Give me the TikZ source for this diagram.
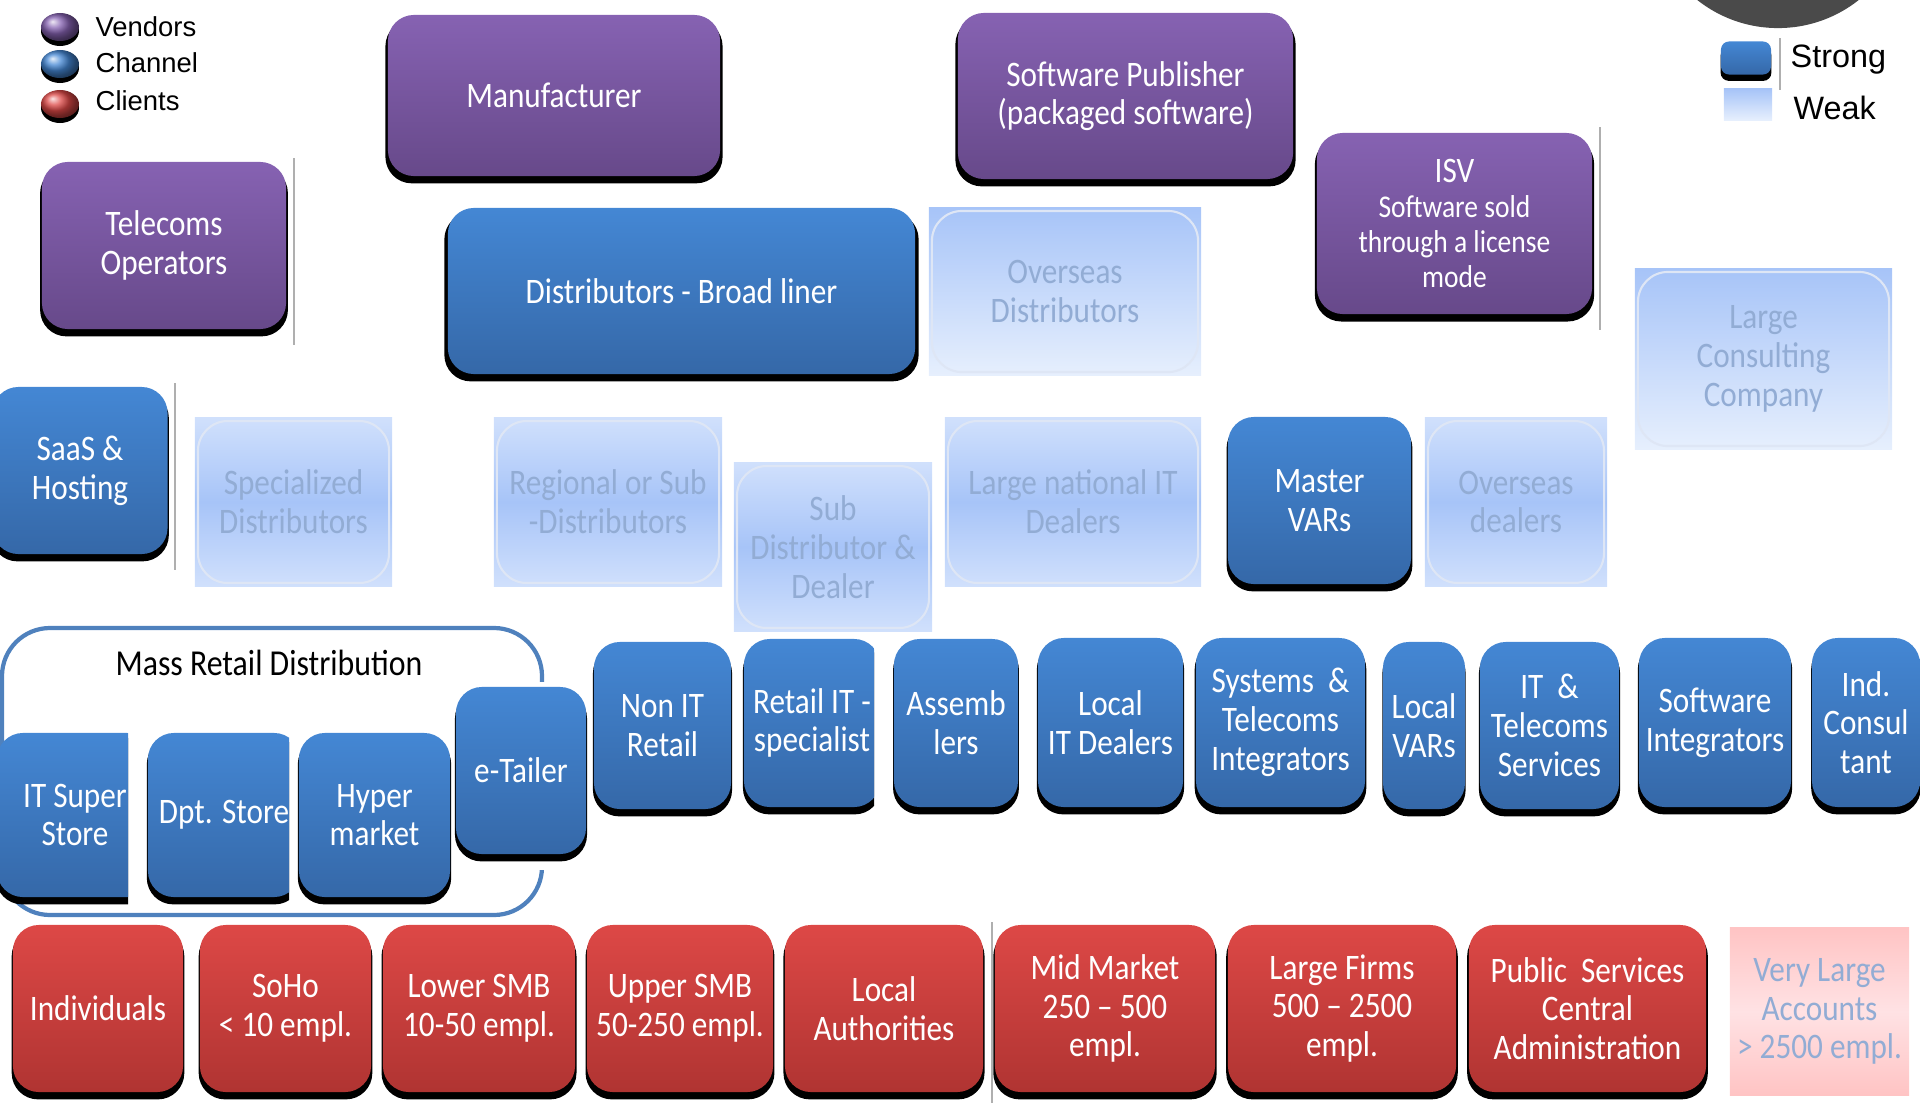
\documentclass[tikz,border=0pt]{standalone}
\usepackage{fontspec}
\usetikzlibrary{shadows}
\newfontfamily\boxfont{Carlito}[FakeStretch=0.87]
\newfontfamily\keyfont{Liberation Sans}
\definecolor{vendortop}{RGB}{134,98,178}
\definecolor{vendorbot}{RGB}{103,73,138}
\definecolor{channeltop}{RGB}{68,135,212}
\definecolor{channelbot}{RGB}{53,104,168}
\definecolor{clienttop}{RGB}{221,72,70}
\definecolor{clientbot}{RGB}{176,52,50}
\definecolor{weaklight}{RGB}{208,224,252}
\definecolor{weakmid}{RGB}{167,196,248}
\definecolor{weakpale}{RGB}{230,239,253}
\definecolor{weakedge}{RGB}{222,230,245}
\definecolor{faintink}{RGB}{146,172,212}
\definecolor{blushedge}{RGB}{255,196,196}
\definecolor{blushmid}{RGB}{255,226,228}
\definecolor{framecol}{RGB}{79,129,189}
\definecolor{knob}{RGB}{74,74,74}
\definecolor{seamgray}{RGB}{175,175,175}

\tikzset{
  tile/.style={rectangle, rounded corners=0.26cm, align=center, inner sep=1pt,
    text=white, font=\boxfont\fontsize{10.2}{11}\selectfont,
    general shadow={fill=black, shadow yshift=-0.06cm, shadow scale=1.015}},
  vendor/.style={tile, top color=vendortop, bottom color=vendorbot},
  channel/.style={tile, top color=channeltop, bottom color=channelbot},
  client/.style={tile, top color=clienttop, bottom color=clientbot},
  faint/.style={rectangle, align=center, inner sep=1pt, text=faintink,
    font=\boxfont\fontsize{10.2}{11}\selectfont},
  weak/.style={faint, top color=weaklight, bottom color=weaklight, middle color=weakmid,
    path picture={\draw[weakedge, line width=0.6pt, rounded corners=0.3cm]
      ([shift={(0.03cm,0.03cm)}]path picture bounding box.south west) rectangle
      ([shift={(-0.03cm,-0.03cm)}]path picture bounding box.north east);}},
  weakfade/.style={weak, top color=weakmid, bottom color=weakpale},
  blush/.style={faint, top color=blushedge, bottom color=blushedge, middle color=blushmid},
  keytext/.style={anchor=west, inner sep=0pt, font=\keyfont\fontsize{7.8}{9}\selectfont},
  seam/.style={draw=seamgray, line width=0.4pt},
}

\begin{document}
\begin{tikzpicture}[x=0.01cm,y=-0.01cm]
  \useasboundingbox (0,0) rectangle (1920,1103);

  \fill[knob] (1778,-102) circle (1.3cm);

  % legend: groups
  \fill[black] (60,31) ellipse [x radius=0.19cm, y radius=0.15cm];
  \shade[ball color=vendortop] (60,27) ellipse [x radius=0.19cm, y radius=0.14cm];
  \fill[black] (60,68) ellipse [x radius=0.19cm, y radius=0.15cm];
  \shade[ball color=channeltop] (60,64) ellipse [x radius=0.19cm, y radius=0.14cm];
  \fill[black] (60,108) ellipse [x radius=0.19cm, y radius=0.15cm];
  \shade[ball color=clienttop] (60,104) ellipse [x radius=0.19cm, y radius=0.14cm];
  \node[keytext] (kvend) at (95,27) {Vendors};
  \node[keytext] (kchan) at (95,63) {Channel};
  \node[keytext] (kclient) at (95,101) {Clients};

  % legend: link strength
  \node[channel, rounded corners=0.08cm, inner sep=0pt, minimum width=0.5cm, minimum height=0.33cm] (kstrong) at (1746,58) {};
  \node[faint, top color=weakmid, bottom color=weakpale, inner sep=0pt, minimum width=0.48cm, minimum height=0.31cm] (kweak) at (1748,104.5) {};
  \node[keytext, font=\keyfont\fontsize{9.2}{10}\selectfont] (tstrong) at (1790,60) {Strong};
  \node[keytext, font=\keyfont\fontsize{9.2}{10}\selectfont] (tweak) at (1793,108) {Weak};

  % vendors
  \node[vendor, minimum width=2.44cm, minimum height=1.67cm] (telecom) at (164,245.5) {Telecoms\\Operators};
  \node[vendor, minimum width=3.32cm, minimum height=1.61cm] (manuf) at (554,95.5) {Manufacturer};
  \node[vendor, minimum width=3.35cm, minimum height=1.66cm] (softpub) at (1125.5,96) {Software Publisher\\(packaged software)};
  \node[vendor, minimum width=2.75cm, minimum height=1.81cm, font=\boxfont\fontsize{9}{9.9}\selectfont] (isv) at (1454.5,223.5)
    {{\fontsize{10.2}{11}\selectfont ISV}\\Software sold\\through a license\\mode};

  % distribution tier
  \node[channel, minimum width=4.67cm, minimum height=1.66cm] (broad) at (681.5,291) {Distributors - Broad liner};
  \node[weakfade, minimum width=2.72cm, minimum height=1.67cm] (overdist) at (1065,291.5) {Overseas\\Distributors};
  \node[weakfade, minimum width=2.57cm, minimum height=1.80cm] (largecons) at (1763.5,359) {Large\\Consulting\\Company};
  \node[channel, minimum width=1.75cm, minimum height=1.67cm] (saas) at (80,470.5) {SaaS \&\\Hosting};
  \node[weak, minimum width=1.97cm, minimum height=1.68cm] (special) at (293.5,502) {Specialized\\Distributors};
  \node[weak, minimum width=2.28cm, minimum height=1.68cm] (regional) at (608,502) {Regional or Sub\\-Distributors};
  \node[weak, minimum width=1.98cm, minimum height=1.68cm] (subdist) at (833,547) {Sub\\Distributor \&\\Dealer};
  \node[weak, minimum width=2.56cm, minimum height=1.68cm] (largenat) at (1073,502) {Large national IT\\Dealers};
  \node[channel, minimum width=1.83cm, minimum height=1.67cm] (master) at (1319.5,500.5) {Master\\VARs};
  \node[weak, minimum width=1.82cm, minimum height=1.68cm] (overdeal) at (1516,502) {Overseas\\dealers};

  % mass retail group
  \draw[framecol, line width=1.2pt, rounded corners=0.48cm] (2,628) rectangle (542,915);
  \node[font=\boxfont\fontsize{10.4}{11}\selectfont] (masslbl) at (269,663) {Mass Retail Distribution};
  \fill[white] (444,682) rectangle (600,870);
  \begin{scope}
    \clip (-10,700) rectangle (128,925);
    \node[channel, minimum width=1.56cm, minimum height=1.64cm] (itsuper) at (75,815) {IT Super\\Store};
  \end{scope}
  \begin{scope}
    \clip (140,700) rectangle (289,925);
    \node[channel, minimum width=1.52cm, minimum height=1.64cm] (dpt) at (224,815) {Dpt. Store};
  \end{scope}
  \node[channel, minimum width=1.51cm, minimum height=1.64cm] (hyper) at (374.5,815) {Hyper\\market};
  \node[channel, minimum width=1.30cm, minimum height=1.67cm] (etail) at (521,770.5) {e-Tailer};

  % resellers
  \node[channel, minimum width=1.37cm, minimum height=1.67cm] (nonit) at (662.5,725.5) {Non IT\\Retail};
  \begin{scope}
    \clip (735,600) rectangle (874,840);
    \node[channel, minimum width=1.36cm, minimum height=1.68cm] (retailit) at (812,723) {Retail IT -\\specialist};
  \end{scope}
  \node[channel, minimum width=1.24cm, minimum height=1.68cm] (assemb) at (956,723) {Assemb\\lers};
  \node[channel, minimum width=1.45cm, minimum height=1.69cm] (localit) at (1110.5,722.5) {Local\\IT Dealers};
  \node[channel, minimum width=1.69cm, minimum height=1.69cm] (systems) at (1280.5,722.5) {Systems \ \&\\Telecoms\\Integrators};
  \node[channel, minimum width=0.82cm, minimum height=1.67cm] (localvars) at (1424,725.5) {Local\\VARs};
  \node[channel, minimum width=1.39cm, minimum height=1.67cm] (ittel) at (1549.5,725.5) {IT \ \&\\Telecoms\\Services};
  \node[channel, minimum width=1.52cm, minimum height=1.69cm] (softint) at (1715,722.5) {Software\\Integrators};
  \node[channel, minimum width=1.08cm, minimum height=1.69cm] (indcons) at (1866,722.5) {Ind.\\Consul\\tant};

  % clients
  \node[client, minimum width=1.70cm, minimum height=1.67cm] (indiv) at (98,1008.5) {Individuals};
  \node[client, minimum width=1.71cm, minimum height=1.67cm] (soho) at (285.5,1008.5) {SoHo\\< 10 empl.};
  \node[client, minimum width=1.92cm, minimum height=1.67cm] (lowsmb) at (479,1008.5) {Lower SMB\\10-50 empl.};
  \node[client, minimum width=1.86cm, minimum height=1.67cm] (upsmb) at (680,1008.5) {Upper SMB\\50-250 empl.};
  \node[client, minimum width=1.98cm, minimum height=1.67cm] (localauth) at (884,1008.5) {Local\\Authorities};
  \node[client, minimum width=2.20cm, minimum height=1.67cm] (midmkt) at (1105,1008.5) {Mid Market\\250 – 500\\empl.};
  \node[client, minimum width=2.28cm, minimum height=1.67cm] (largefirm) at (1342,1008.5) {Large Firms\\500 – 2500\\empl.};
  \node[client, minimum width=2.37cm, minimum height=1.67cm] (public) at (1587.5,1008.5) {Public \ Services\\Central\\Administration};
  \node[blush, minimum width=1.79cm, minimum height=1.67cm] (verylarge) at (1819.5,1011.5) {Very Large\\Accounts\\> 2500 empl.};

  % picture seams
  \draw[seam] (294,158) -- (294,345);
  \draw[seam] (175,383) -- (175,570);
  \draw[seam] (1600,127) -- (1600,330);
  \draw[seam] (1780,38) -- (1780,90);
  \draw[seam] (992,922) -- (992,1103);
\end{tikzpicture}
\end{document}
